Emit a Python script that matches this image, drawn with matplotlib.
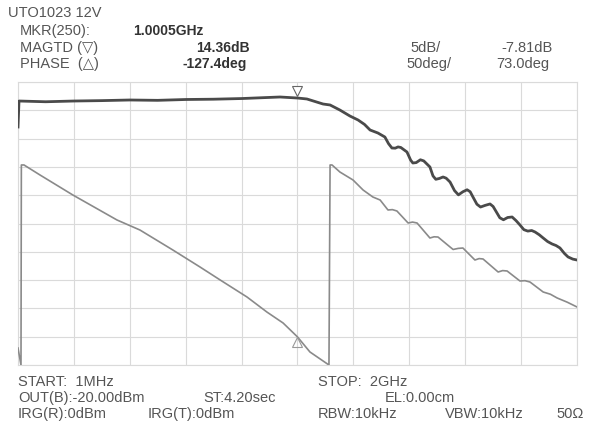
import numpy as np
import matplotlib.pyplot as plt
from matplotlib.transforms import offset_copy

plt.rcParams['font.family'] = ['Liberation Sans', 'DejaVu Sans']

# sweep 1 MHz .. 2 GHz (GHz, dB / deg)
mag_freq = [0.001, 0.0046, 0.100, 0.201, 0.300, 0.401, 0.500, 0.602, 0.700,
            0.802, 0.938, 1.0005, 1.034, 1.092, 1.117, 1.152, 1.188, 1.217,
            1.240, 1.260, 1.288, 1.313, 1.326, 1.338, 1.350, 1.360, 1.370,
            1.392, 1.405, 1.413, 1.425, 1.440, 1.452, 1.474, 1.485, 1.495,
            1.508, 1.521, 1.532, 1.546, 1.562, 1.576, 1.592, 1.607, 1.618,
            1.628, 1.642, 1.655, 1.672, 1.689, 1.700, 1.712, 1.724, 1.737,
            1.752, 1.768, 1.782, 1.796, 1.810, 1.824, 1.838, 1.850, 1.865,
            1.879, 1.895, 1.911, 1.925, 1.939, 1.955, 1.968, 1.985, 2.000]
mag_db = [9.24, 13.83, 13.70, 13.83, 13.90, 14.01, 13.95, 14.10, 14.15,
          14.27, 14.54, 14.36, 14.19, 13.30, 13.13, 12.24, 11.18, 10.48,
          9.70, 8.71, 8.18, 7.47, 6.30, 5.53, 5.50, 5.72, 5.62,
          4.82, 3.40, 2.88, 2.95, 3.45, 3.25, 2.18, 0.60, 0.00,
          0.15, 0.41, 0.20, -0.48, -2.00, -2.75, -2.20, -1.85, -2.20,
          -3.13, -4.40, -4.90, -4.60, -4.36, -4.80, -5.80, -6.80, -7.15,
          -6.75, -6.66, -7.30, -8.07, -8.90, -9.15, -9.05, -9.31, -9.80,
          -10.37, -11.00, -11.43, -11.70, -12.13, -13.10, -13.72, -14.10, -14.26]

ph_freq = [0.001, 0.0117, 0.013, 0.0225, 0.0797, 0.197, 0.355, 0.437, 0.555,
           0.652, 0.724, 0.820, 0.891, 0.949, 1.0005, 1.045, 1.113, 1.117,
           1.124, 1.152, 1.199, 1.235, 1.270, 1.296, 1.324, 1.340, 1.356,
           1.396, 1.412, 1.428, 1.474, 1.489, 1.503, 1.546, 1.557, 1.575,
           1.592, 1.635, 1.650, 1.664, 1.718, 1.734, 1.750, 1.796, 1.814,
           1.832, 1.879, 1.905, 1.929, 1.965, 2.000]
ph_deg = [-147.0, -177.0, 176.4, 176.4, 158.7, 123.4, 79.2, 61.5, 26.1,
          -3.9, -26.8, -56.9, -83.4, -102.8, -127.4, -154.0, -177.0, 176.4,
          176.4, 164.0, 149.9, 132.2, 119.8, 114.5, 96.9, 97.5, 95.1,
          73.9, 75.5, 73.9, 47.4, 49.5, 49.1, 31.5, 27.1, 29.0,
          29.7, 8.5, 11.0, 10.3, -12.7, -10.2, -10.9, -28.6, -28.0,
          -30.4, -48.0, -52.0, -58.6, -66.0, -74.5]

mkr_freq = 1.0005
mkr_db = 14.36
mkr_deg = -127.4

# display scale: ref value at centre line, 10 divisions
ref_db, db_div = -7.81, 5
ref_deg, deg_div = 73.0, 50

fig = plt.figure(figsize=(5.99, 4.26), dpi=100)
ax = fig.add_axes([18 / 599, 61 / 426, 559 / 599, 283 / 426])

ax.set_xlim(0.001, 2.0)
ax.set_ylim(ref_db - 5 * db_div, ref_db + 5 * db_div)
ax.set_xticks(np.linspace(0.001, 2.0, 11))
ax.set_yticks(np.linspace(ref_db - 5 * db_div, ref_db + 5 * db_div, 11))
ax.tick_params(length=0, labelbottom=False, labelleft=False)
ax.grid(True, color='#dadada', lw=0.8)
for s in ax.spines.values():
    s.set_color('#dadada')

ax2 = ax.twinx()
ax2.set_ylim(ref_deg - 5 * deg_div, ref_deg + 5 * deg_div)
ax2.set_yticks([])
for s in ax2.spines.values():
    s.set_visible(False)

ax.plot(mag_freq, mag_db, color='#4a4a4a', lw=2.0, solid_joinstyle='round', zorder=3)
ax2.plot(ph_freq, ph_deg, color='#8a8a8a', lw=1.2, solid_joinstyle='round')

# marker triangles
up = offset_copy(ax.transData, fig=fig, y=5, units='points')
ax.plot([mkr_freq], [mkr_db], marker='v', ms=7, mfc='white', mec='#666666',
        mew=0.8, transform=up, zorder=4)
down = offset_copy(ax2.transData, fig=fig, y=-4, units='points')
ax2.plot([mkr_freq], [mkr_deg], marker='^', ms=7, mfc='none', mec='#999999',
         mew=0.8, transform=down)


def label(x, y, s, **kw):
    kw.setdefault('color', '#555555')
    kw.setdefault('fontsize', 10.5)
    fig.text(x / 599, 1 - y / 426, s, va='center', **kw)


# header
label(8, 13, 'UTO1023 12V')
label(20, 31, 'MKR(250):')
label(20, 48, 'MAGTD (\u25bd)')
label(20, 64, 'PHASE  (\u25b3)')
label(133, 31, '1.0005GHz', fontweight='bold', color='#333333', fontsize=10)
label(250, 48, '14.36dB', ha='right', fontweight='bold', color='#333333', fontsize=10)
label(247, 64, '-127.4deg', ha='right', fontweight='bold', color='#333333', fontsize=10)
label(410, 48, '5dB/')
label(553, 48, '-7.81dB', ha='right')
label(406, 64, '50deg/')
label(549, 64, '73.0deg', ha='right')

# footer
label(18, 382, 'START:  1MHz')
label(318, 382, 'STOP:  2GHz')
label(18, 398, 'OUT(B):-20.00dBm')
label(203, 398, 'ST:4.20sec')
label(385, 398, 'EL:0.00cm')
label(18, 414, 'IRG(R):0dBm')
label(148, 414, 'IRG(T):0dBm')
label(318, 414, 'RBW:10kHz')
label(445, 414, 'VBW:10kHz')
label(556, 414, '50\u03a9')

fig.savefig('out.png', dpi=100, facecolor='white')
